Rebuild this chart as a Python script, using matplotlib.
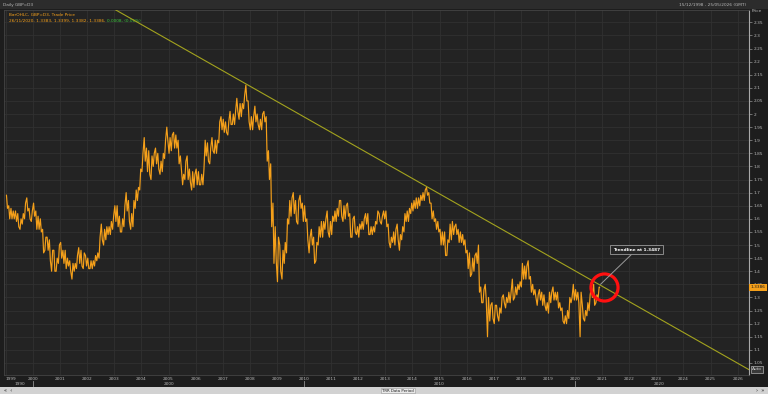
import matplotlib.pyplot as plt
from matplotlib.transforms import blended_transform_factory
import numpy as np

# monthly high / low of GBP=D3, Jan 1999 .. Nov 2020
first_year = 1999
monthly_high = [
    1.69, 1.65, 1.64, 1.63, 1.63, 1.62, 1.60, 1.62, 1.66, 1.68, 1.64, 1.63,  # 1999
    1.66, 1.63, 1.61, 1.60, 1.56, 1.53, 1.53, 1.52, 1.48, 1.48, 1.45, 1.50,  # 2000
    1.51, 1.48, 1.48, 1.45, 1.44, 1.43, 1.43, 1.46, 1.49, 1.48, 1.47, 1.46,  # 2001
    1.45, 1.44, 1.44, 1.46, 1.47, 1.53, 1.58, 1.56, 1.57, 1.57, 1.59, 1.61,  # 2002
    1.65, 1.65, 1.61, 1.60, 1.65, 1.70, 1.67, 1.62, 1.67, 1.71, 1.72, 1.79,  # 2003
    1.85, 1.91, 1.87, 1.86, 1.84, 1.85, 1.87, 1.85, 1.82, 1.85, 1.90, 1.95,  # 2004
    1.91, 1.92, 1.93, 1.92, 1.90, 1.84, 1.77, 1.82, 1.84, 1.79, 1.78, 1.77,  # 2005
    1.79, 1.78, 1.77, 1.79, 1.90, 1.89, 1.87, 1.91, 1.90, 1.90, 1.97, 1.99,  # 2006
    1.98, 1.97, 1.97, 2.01, 2.00, 2.01, 2.06, 2.04, 2.04, 2.07, 2.11, 2.05,  # 2007
    1.99, 1.99, 2.03, 2.00, 1.98, 2.00, 2.01, 1.99, 1.86, 1.81, 1.66, 1.57,  # 2008
    1.53, 1.50, 1.48, 1.51, 1.60, 1.67, 1.68, 1.70, 1.67, 1.67, 1.69, 1.66,  # 2009
    1.65, 1.60, 1.53, 1.56, 1.53, 1.51, 1.57, 1.59, 1.59, 1.60, 1.63, 1.59,  # 2010
    1.61, 1.63, 1.64, 1.67, 1.67, 1.65, 1.65, 1.66, 1.62, 1.60, 1.61, 1.57,  # 2011
    1.58, 1.59, 1.60, 1.62, 1.62, 1.57, 1.57, 1.59, 1.63, 1.62, 1.61, 1.63,  # 2012
    1.63, 1.58, 1.53, 1.55, 1.56, 1.58, 1.54, 1.57, 1.62, 1.63, 1.64, 1.66,  # 2013
    1.67, 1.68, 1.68, 1.69, 1.70, 1.71, 1.72, 1.70, 1.66, 1.63, 1.60, 1.59,  # 2014
    1.56, 1.55, 1.55, 1.52, 1.58, 1.59, 1.57, 1.58, 1.56, 1.55, 1.54, 1.52,  # 2015
    1.48, 1.47, 1.45, 1.46, 1.47, 1.50, 1.34, 1.33, 1.35, 1.30, 1.27, 1.28,  # 2016
    1.27, 1.27, 1.26, 1.30, 1.31, 1.30, 1.32, 1.32, 1.37, 1.34, 1.35, 1.36,  # 2017
    1.43, 1.42, 1.42, 1.44, 1.38, 1.35, 1.33, 1.31, 1.33, 1.32, 1.31, 1.28,  # 2018
    1.32, 1.32, 1.34, 1.32, 1.32, 1.28, 1.26, 1.23, 1.25, 1.30, 1.30, 1.35,  # 2019
    1.33, 1.32, 1.32, 1.27, 1.25, 1.28, 1.31, 1.34, 1.35, 1.31, 1.34,        # 2020
]
monthly_low = [
    1.64, 1.60, 1.60, 1.60, 1.59, 1.57, 1.56, 1.58, 1.60, 1.63, 1.60, 1.59,  # 1999
    1.61, 1.56, 1.56, 1.55, 1.47, 1.48, 1.48, 1.44, 1.40, 1.40, 1.40, 1.43,  # 2000
    1.45, 1.43, 1.41, 1.42, 1.40, 1.37, 1.40, 1.41, 1.43, 1.42, 1.41, 1.42,  # 2001
    1.41, 1.41, 1.41, 1.42, 1.44, 1.45, 1.52, 1.50, 1.52, 1.54, 1.54, 1.56,  # 2002
    1.59, 1.57, 1.55, 1.55, 1.57, 1.63, 1.59, 1.56, 1.57, 1.64, 1.67, 1.71,  # 2003
    1.78, 1.82, 1.78, 1.77, 1.75, 1.80, 1.81, 1.79, 1.77, 1.78, 1.83, 1.90,  # 2004
    1.85, 1.86, 1.87, 1.87, 1.81, 1.79, 1.73, 1.75, 1.75, 1.74, 1.71, 1.72,  # 2005
    1.73, 1.73, 1.73, 1.73, 1.84, 1.82, 1.81, 1.86, 1.85, 1.85, 1.89, 1.94,  # 2006
    1.93, 1.93, 1.92, 1.96, 1.96, 1.96, 2.01, 1.98, 1.99, 2.02, 2.05, 1.97,  # 2007
    1.94, 1.94, 1.97, 1.96, 1.94, 1.94, 1.97, 1.82, 1.75, 1.57, 1.43, 1.44,  # 2008
    1.36, 1.40, 1.37, 1.43, 1.47, 1.58, 1.61, 1.62, 1.59, 1.58, 1.64, 1.59,  # 2009
    1.59, 1.52, 1.47, 1.50, 1.43, 1.44, 1.50, 1.53, 1.53, 1.56, 1.55, 1.53,  # 2010
    1.54, 1.59, 1.59, 1.61, 1.61, 1.59, 1.60, 1.61, 1.53, 1.53, 1.55, 1.54,  # 2011
    1.53, 1.56, 1.56, 1.58, 1.54, 1.54, 1.54, 1.55, 1.58, 1.59, 1.58, 1.60,  # 2012
    1.57, 1.51, 1.49, 1.51, 1.50, 1.52, 1.48, 1.52, 1.55, 1.59, 1.59, 1.62,  # 2013
    1.63, 1.64, 1.64, 1.65, 1.67, 1.67, 1.69, 1.66, 1.60, 1.59, 1.56, 1.55,  # 2014
    1.50, 1.50, 1.46, 1.46, 1.51, 1.52, 1.54, 1.54, 1.51, 1.51, 1.50, 1.47,  # 2015
    1.41, 1.38, 1.39, 1.40, 1.43, 1.32, 1.28, 1.28, 1.29, 1.15, 1.21, 1.22,  # 2016
    1.20, 1.23, 1.21, 1.24, 1.28, 1.26, 1.28, 1.28, 1.29, 1.30, 1.31, 1.33,  # 2017
    1.34, 1.37, 1.37, 1.37, 1.32, 1.31, 1.30, 1.27, 1.29, 1.27, 1.27, 1.25,  # 2018
    1.24, 1.28, 1.29, 1.29, 1.26, 1.25, 1.21, 1.20, 1.20, 1.22, 1.28, 1.29,  # 2019
    1.29, 1.28, 1.15, 1.22, 1.21, 1.23, 1.25, 1.30, 1.27, 1.28, 1.30,        # 2020
]
last_date = '26/11/2020'
last_close = 1.3386

# trendline anchors (Nov 2007 top and the marked point)
trend_x = [2007.84, 2020.90]
trend_y = [2.116, 1.3487]

year_ticks = list(range(1999, 2027))
decade_labels = ['1990', '2000', '2010', '2020']
decade_label_pos = [1999.5, 2005.0, 2015.0, 2023.1]
decade_bounds = [2000, 2010, 2020]
price_ticks = np.round(np.arange(1.05, 2.36, 0.05), 2)

BG = '#1d1d1d'
PLOT_BG = '#232323'
GRID = '#313131'
TXT = '#b8b8b8'
ORANGE = '#f5a01a'
FS = 3.1

plt.rcParams['font.family'] = ['DejaVu Sans']
fig = plt.figure(figsize=(7.68, 3.94), dpi=100, facecolor=BG)
ax = fig.add_axes([4 / 768, 1 - 375 / 394, 745 / 768, 365 / 394])
ax.set_facecolor(PLOT_BG)
ax.set_xlim(1998.93, 2026.42)
ax.set_ylim(1.004, 2.397)

# zig-zag through monthly extremes
hi = np.array(monthly_high)
lo = np.array(monthly_low)
mid = (hi + lo) / 2
xs, ys = [], []
for i in range(len(hi)):
    t = first_year + i / 12
    up = mid[min(i + 1, len(hi) - 1)] >= mid[i]
    first, second = (lo[i], hi[i]) if up else (hi[i], lo[i])
    xs += [t + 0.25 / 12, t + 0.7 / 12]
    ys += [first, second]
xs.append(2020 + 10.85 / 12)
ys.append(last_close)
ax.plot(xs, ys, color=ORANGE, lw=0.85, zorder=3)

# trendline across the whole window
slope = (trend_y[1] - trend_y[0]) / (trend_x[1] - trend_x[0])
tx = np.array([1998.93, 2026.42])
ax.plot(tx, trend_y[0] + slope * (tx - trend_x[0]), color='#a3a31e', lw=0.8, zorder=4)

# marked point
ax.plot(2021.08, 1.340, marker='o', ms=19.5, mfc='none', mec='#ff1010', mew=2.3, zorder=6)
ax.annotate('Trendline at 1.3487', xy=(2020.94, 1.350), xytext=(2021.4, 1.475),
            color='white', fontsize=FS, fontweight='bold', va='bottom', ha='left',
            bbox=dict(boxstyle='square,pad=0.6', fc='#262626', ec='#9a9a9a', lw=0.6),
            arrowprops=dict(arrowstyle='-', color='#9a9a9a', lw=0.7, shrinkA=0, shrinkB=0),
            zorder=7)

# grid and axes
ax.set_xticks(year_ticks)
ax.set_xticklabels([str(y) for y in year_ticks])
ax.get_xticklabels()[0].set_horizontalalignment('left')
ax.set_yticks(price_ticks)
ax.set_yticklabels([f'{v:g}' for v in price_ticks])
ax.yaxis.tick_right()
ax.grid(True, color=GRID, lw=0.6)
ax.tick_params(axis='x', length=0, pad=1.5, labelsize=FS, labelcolor=TXT)
ax.tick_params(axis='y', length=2, width=0.5, color='#909090', pad=1.5,
               labelsize=FS, labelcolor=TXT)
for side in ['top', 'left', 'bottom']:
    ax.spines[side].set_color('#444444')
    ax.spines[side].set_linewidth(0.6)
ax.spines['right'].set_color('#a8a8a8')
ax.spines['right'].set_linewidth(0.8)

# second row of x labels (decades)
tr = blended_transform_factory(ax.transData, ax.transAxes)
for lab, pos in zip(decade_labels, decade_label_pos):
    ax.text(pos, -0.024, lab, transform=tr, ha='center', va='center',
            fontsize=FS, color=TXT, clip_on=False)
for b in decade_bounds:
    ax.plot([b, b], [-0.016, -0.03], transform=tr, color='#909090', lw=0.6, clip_on=False)

# price tag and auto box
ty = blended_transform_factory(ax.transAxes, ax.transData)
ax.text(1.002, last_close, f'{last_close:.4f}', transform=ty, ha='left', va='center',
        fontsize=FS, color='#1a1a1a', clip_on=False, zorder=8,
        bbox=dict(boxstyle='square,pad=0.3', fc=ORANGE, ec='none'))
ax.text(1.004, 0.01, 'Auto', transform=ax.transAxes, ha='left', va='bottom',
        fontsize=FS, color='#d0d0d0', clip_on=False,
        bbox=dict(boxstyle='square,pad=0.3', fc='#3a3a3a', ec='#b0b0b0', lw=0.5))
fig.text(757 / 768, 1 - 11.5 / 394, 'Price', ha='center', va='center',
         fontsize=FS, color=TXT)

# legend text in the plot
ax.text(0.007, 1 - 5 / 365, 'BarOHLC, GBP=D3, Trade Price', transform=ax.transAxes,
        ha='left', va='center', fontsize=FS, color=ORANGE)
t1 = ax.text(0.007, 1 - 10.7 / 365, f'{last_date}, 1.3383, 1.3399, 1.3382, {last_close:.4f}, ',
             transform=ax.transAxes, ha='left', va='center', fontsize=FS, color=ORANGE)
ax.annotate('0.0008, (0.06%)', xycoords=t1, xy=(1, 0.5), va='center', ha='left',
            fontsize=FS, color='#3cc83c')

# header strip
fig.patches.append(plt.Rectangle((0, 1 - 9 / 394), 1, 9 / 394, transform=fig.transFigure,
                                 fc='#2c2c2c', ec='none', zorder=0))
fig.text(3 / 768, 1 - 5 / 394, 'Daily GBP=D3', ha='left', va='center', fontsize=FS, color=TXT)
fig.text(746 / 768, 1 - 5 / 394, '15/12/1998 - 25/05/2026 (GMT)', ha='right', va='center',
         fontsize=FS, color=TXT)

# bottom scroll bar
fig.patches.append(plt.Rectangle((0, 0), 1, 7 / 394, transform=fig.transFigure,
                                 fc='#d2d2d2', ec='none', zorder=0))
fig.text(382 / 768, 3.5 / 394, 'TRR Data Period', ha='left', va='center', fontsize=2.8,
         color='#202020', bbox=dict(boxstyle='square,pad=0.2', fc='#e8e8e8', ec='#999999', lw=0.4))
fig.text(4 / 768, 3.5 / 394, '«  ‹', ha='left', va='center', fontsize=FS + 0.5, color='#202020')
fig.text(764 / 768, 3.5 / 394, '›  »', ha='right', va='center', fontsize=FS + 0.5, color='#202020')

fig.savefig('out.png', dpi=100, facecolor=BG)
